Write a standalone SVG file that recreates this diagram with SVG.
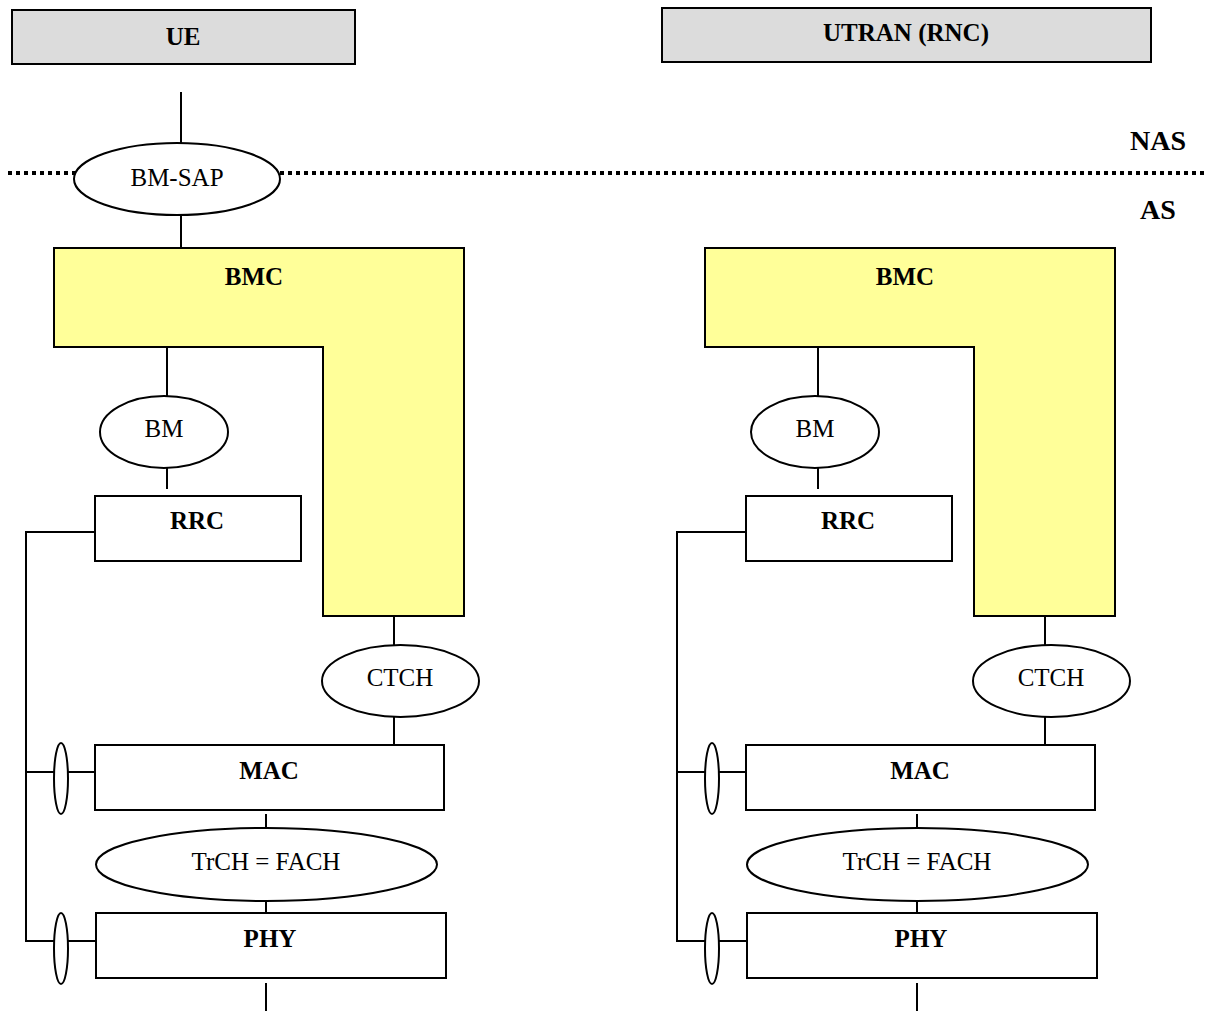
<svg xmlns="http://www.w3.org/2000/svg" width="1207" height="1011" viewBox="0 0 1207 1011">
<defs>
<style>
.box{fill:#ffffff;stroke:#000;stroke-width:2}
.hdr{fill:#dcdcdc;stroke:#000;stroke-width:2}
.bmc{fill:#ffff99;stroke:#000;stroke-width:2}
.ell{fill:#ffffff;stroke:#000;stroke-width:2}
.ln{stroke:#000;stroke-width:2;fill:none}
.b{font-family:"Liberation Serif","Times New Roman",serif;font-weight:bold;font-size:25px;text-anchor:middle;fill:#000}
.r{font-family:"Liberation Serif","Times New Roman",serif;font-size:25px;text-anchor:middle;fill:#000}
.big{font-family:"Liberation Serif","Times New Roman",serif;font-weight:bold;font-size:28px;text-anchor:middle;fill:#000}
</style>
</defs>
<rect width="1207" height="1011" fill="#ffffff"/>

<g id="connectors">
<line class="ln" x1="181" y1="92" x2="181" y2="143"/>
<line class="ln" x1="181" y1="215" x2="181" y2="248"/>
<line x1="8" y1="173" x2="1207" y2="173" stroke="#000" stroke-width="4" stroke-dasharray="4 4"/>
<g id="ue-links">
<line class="ln" x1="167" y1="347" x2="167" y2="396"/>
<line class="ln" x1="167" y1="468" x2="167" y2="489"/>
<polyline class="ln" points="100,532 26,532 26,941 96,941"/>
<line class="ln" x1="26" y1="772" x2="95" y2="772"/>
<line class="ln" x1="394" y1="616" x2="394" y2="645"/>
<line class="ln" x1="394" y1="717" x2="394" y2="745"/>
<line class="ln" x1="266" y1="814" x2="266" y2="828"/>
<line class="ln" x1="266" y1="901" x2="266" y2="913"/>
<line class="ln" x1="266" y1="983" x2="266" y2="1011"/>
</g>
<g id="rnc-links" transform="translate(651,0)">
<line class="ln" x1="167" y1="347" x2="167" y2="396"/>
<line class="ln" x1="167" y1="468" x2="167" y2="489"/>
<polyline class="ln" points="100,532 26,532 26,941 96,941"/>
<line class="ln" x1="26" y1="772" x2="95" y2="772"/>
<line class="ln" x1="394" y1="616" x2="394" y2="645"/>
<line class="ln" x1="394" y1="717" x2="394" y2="745"/>
<line class="ln" x1="266" y1="814" x2="266" y2="828"/>
<line class="ln" x1="266" y1="901" x2="266" y2="913"/>
<line class="ln" x1="266" y1="983" x2="266" y2="1011"/>
</g>
</g>

<g id="ue-header"><rect class="hdr" x="12" y="10" width="343" height="54"/><text class="b" x="183" y="45">UE</text></g>
<g id="rnc-header"><rect class="hdr" x="662" y="8" width="489" height="54"/><text class="b" x="906" y="41">UTRAN (RNC)</text></g>
<g id="nas-label"><text class="big" x="1158" y="150">NAS</text></g>
<g id="as-label"><text class="big" x="1158" y="219">AS</text></g>
<g id="bm-sap"><ellipse class="ell" cx="177" cy="179" rx="103" ry="36"/><text class="r" x="177" y="186">BM-SAP</text></g>

<g id="ue-stack">
<g id="ue-bmc"><polygon class="bmc" points="54,248 464,248 464,616 323,616 323,347 54,347"/><text class="b" x="254" y="285">BMC</text></g>
<g id="ue-bm"><ellipse class="ell" cx="164" cy="432" rx="64" ry="36"/><text class="r" x="164" y="437">BM</text></g>
<g id="ue-rrc"><rect class="box" x="95" y="496" width="206" height="65"/><text class="b" x="197" y="529">RRC</text></g>
<g id="ue-ctch"><ellipse class="ell" cx="400.5" cy="681" rx="78.5" ry="36"/><text class="r" x="400" y="686">CTCH</text></g>
<g id="ue-mac"><rect class="box" x="95" y="745" width="349" height="65"/><text class="b" x="269" y="779">MAC</text></g>
<g id="ue-mac-sap"><ellipse class="ell" cx="61" cy="778.5" rx="7" ry="35.5"/></g>
<g id="ue-trch"><ellipse class="ell" cx="266.5" cy="864.5" rx="170.5" ry="36.5"/><text class="r" x="266" y="870">TrCH = FACH</text></g>
<g id="ue-phy"><rect class="box" x="96" y="913" width="350" height="65"/><text class="b" x="270" y="947">PHY</text></g>
<g id="ue-phy-sap"><ellipse class="ell" cx="61" cy="948.5" rx="7" ry="35.5"/></g>
</g>

<g id="rnc-stack" transform="translate(651,0)">
<g id="rnc-bmc"><polygon class="bmc" points="54,248 464,248 464,616 323,616 323,347 54,347"/><text class="b" x="254" y="285">BMC</text></g>
<g id="rnc-bm"><ellipse class="ell" cx="164" cy="432" rx="64" ry="36"/><text class="r" x="164" y="437">BM</text></g>
<g id="rnc-rrc"><rect class="box" x="95" y="496" width="206" height="65"/><text class="b" x="197" y="529">RRC</text></g>
<g id="rnc-ctch"><ellipse class="ell" cx="400.5" cy="681" rx="78.5" ry="36"/><text class="r" x="400" y="686">CTCH</text></g>
<g id="rnc-mac"><rect class="box" x="95" y="745" width="349" height="65"/><text class="b" x="269" y="779">MAC</text></g>
<g id="rnc-mac-sap"><ellipse class="ell" cx="61" cy="778.5" rx="7" ry="35.5"/></g>
<g id="rnc-trch"><ellipse class="ell" cx="266.5" cy="864.5" rx="170.5" ry="36.5"/><text class="r" x="266" y="870">TrCH = FACH</text></g>
<g id="rnc-phy"><rect class="box" x="96" y="913" width="350" height="65"/><text class="b" x="270" y="947">PHY</text></g>
<g id="rnc-phy-sap"><ellipse class="ell" cx="61" cy="948.5" rx="7" ry="35.5"/></g>
</g>
</svg>
